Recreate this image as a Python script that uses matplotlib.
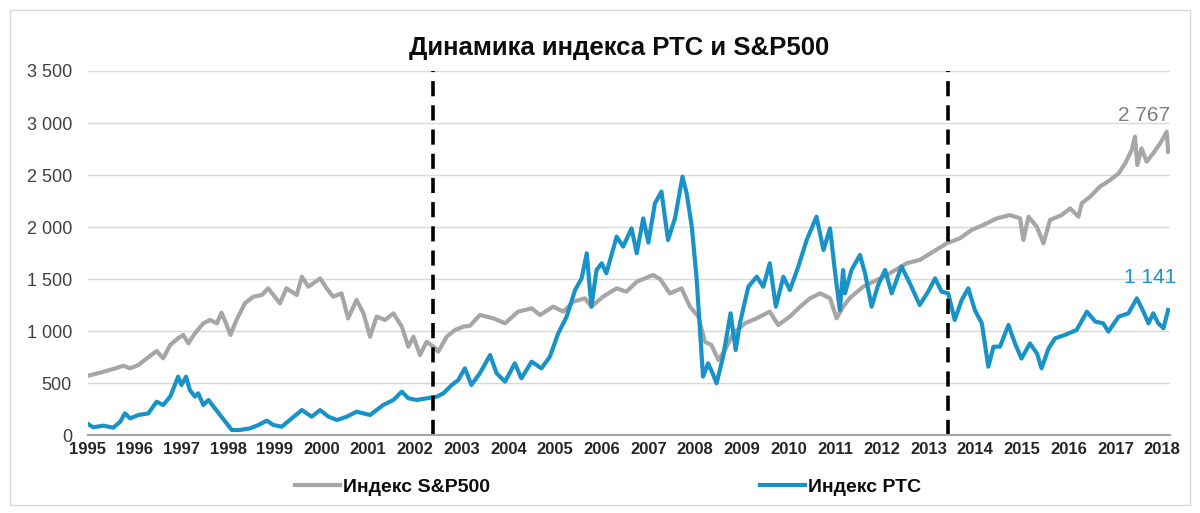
import matplotlib
matplotlib.use("Agg")
import matplotlib.pyplot as plt
from matplotlib.lines import Line2D
from matplotlib.patches import Rectangle
from matplotlib.ticker import FuncFormatter

plt.rcParams['font.family'] = ['Liberation Sans', 'DejaVu Sans']

# positions are in "axis years": label 1995 sits at 1995.0, label 2018 at 2018.0
spx_t = [1995.00, 1995.26, 1995.54, 1995.76, 1995.90, 1996.08, 1996.26, 1996.47, 1996.61, 1996.76,
         1996.93, 1997.04, 1997.15, 1997.29, 1997.47, 1997.61, 1997.76, 1997.86, 1997.97, 1998.05,
         1998.18, 1998.36, 1998.54, 1998.72, 1998.86, 1998.97, 1999.11, 1999.25, 1999.47, 1999.58,
         1999.72, 1999.97, 2000.11, 2000.25, 2000.43, 2000.57, 2000.75, 2000.90, 2001.04, 2001.18,
         2001.36, 2001.54, 2001.72, 2001.86, 2001.97, 2002.11, 2002.25, 2002.40, 2002.50, 2002.68,
         2002.86, 2003.04, 2003.18, 2003.39, 2003.68, 2003.93, 2004.21, 2004.50, 2004.68, 2004.96,
         2005.18, 2005.39, 2005.64, 2005.78, 2006.03, 2006.32, 2006.53, 2006.75, 2007.10, 2007.25,
         2007.46, 2007.71, 2007.89, 2008.07, 2008.21, 2008.35, 2008.50, 2008.64, 2008.82, 2009.07,
         2009.32, 2009.60, 2009.78, 2010.03, 2010.25, 2010.46, 2010.68, 2010.89, 2011.03, 2011.17,
         2011.32, 2011.60, 2011.89, 2012.17, 2012.53, 2012.81, 2013.10, 2013.39, 2013.67, 2013.92,
         2014.17, 2014.46, 2014.74, 2014.96, 2015.03, 2015.14, 2015.32, 2015.46, 2015.60, 2015.85,
         2016.03, 2016.21, 2016.28, 2016.46, 2016.67, 2016.89, 2017.07, 2017.21, 2017.35, 2017.42,
         2017.47, 2017.56, 2017.67, 2017.81, 2017.96, 2018.10, 2018.13]
spx_v = [570, 599, 635, 666, 641, 673, 737, 808, 737, 865,
         930, 962, 881, 978, 1074, 1106, 1074, 1176, 1058, 962,
         1106, 1266, 1330, 1346, 1410, 1346, 1266, 1410, 1346, 1522,
         1426, 1506, 1410, 1330, 1362, 1122, 1298, 1170, 945, 1138,
         1106, 1170, 1042, 849, 945, 769, 897, 849, 801, 945,
         1010, 1042, 1050, 1154, 1122, 1074, 1186, 1218, 1154, 1234,
         1186, 1282, 1314, 1234, 1330, 1410, 1378, 1474, 1538, 1500,
         1362, 1410, 1234, 1138, 897, 865, 721, 817, 978, 1074,
         1122, 1186, 1058, 1138, 1234, 1314, 1362, 1314, 1122, 1234,
         1320, 1426, 1490, 1555, 1651, 1683, 1763, 1843, 1891, 1971,
         2019, 2083, 2115, 2083, 1875, 2099, 2000, 1843, 2067, 2115,
         2179, 2099, 2228, 2292, 2388, 2452, 2516, 2612, 2740, 2868,
         2596, 2756, 2628, 2708, 2804, 2916, 2724]

rts_t = [1995.00, 1995.11, 1995.33, 1995.54, 1995.69, 1995.79, 1995.90, 1996.08, 1996.29, 1996.47,
         1996.61, 1996.76, 1996.86, 1996.93, 1997.00, 1997.10, 1997.18, 1997.29, 1997.36, 1997.47,
         1997.58, 1997.69, 1997.83, 1997.97, 1998.08, 1998.25, 1998.47, 1998.65, 1998.83, 1998.97,
         1999.15, 1999.32, 1999.58, 1999.79, 1999.97, 2000.15, 2000.33, 2000.54, 2000.75, 2001.04,
         2001.32, 2001.54, 2001.72, 2001.86, 2002.04, 2002.25, 2002.47, 2002.61, 2002.79, 2002.93,
         2003.07, 2003.14, 2003.21, 2003.39, 2003.61, 2003.75, 2003.93, 2004.14, 2004.28, 2004.50,
         2004.71, 2004.89, 2005.07, 2005.25, 2005.43, 2005.57, 2005.68, 2005.78, 2005.89, 2006.00,
         2006.10, 2006.32, 2006.46, 2006.64, 2006.75, 2006.89, 2007.00, 2007.14, 2007.28, 2007.42,
         2007.57, 2007.73, 2007.82, 2007.93, 2008.03, 2008.10, 2008.17, 2008.28, 2008.39, 2008.46,
         2008.60, 2008.76, 2008.87, 2008.96, 2009.14, 2009.32, 2009.46, 2009.60, 2009.73, 2009.89,
         2010.03, 2010.21, 2010.39, 2010.60, 2010.75, 2010.89, 2011.00, 2011.10, 2011.17, 2011.21,
         2011.35, 2011.53, 2011.64, 2011.78, 2011.92, 2012.07, 2012.21, 2012.42, 2012.60, 2012.81,
         2012.99, 2013.14, 2013.28, 2013.42, 2013.56, 2013.71, 2013.85, 2013.99, 2014.14, 2014.28,
         2014.39, 2014.53, 2014.71, 2014.85, 2014.99, 2015.17, 2015.32, 2015.42, 2015.57, 2015.71,
         2015.92, 2016.17, 2016.39, 2016.57, 2016.74, 2016.85, 2017.07, 2017.28, 2017.46, 2017.60,
         2017.71, 2017.81, 2017.92, 2018.03, 2018.13]
rts_v = [106, 74, 90, 70, 128, 208, 160, 192, 208, 320,
         288, 369, 481, 561, 481, 561, 433, 369, 401, 288,
         337, 272, 192, 112, 48, 48, 64, 96, 138, 96,
         80, 144, 240, 176, 240, 176, 144, 176, 224, 192,
         288, 337, 417, 353, 337, 353, 369, 401, 481, 529,
         641, 560, 481, 593, 769, 593, 513, 689, 545, 705,
         641, 753, 978, 1138, 1394, 1506, 1747, 1234, 1586, 1651,
         1555, 1907, 1811, 1987, 1747, 2083, 1850, 2228, 2340, 1875,
         2083, 2484, 2324, 2003, 1522, 1042, 561, 689, 577, 497,
         753, 1170, 817, 1074, 1426, 1522, 1426, 1651, 1234, 1522,
         1394, 1619, 1875, 2099, 1779, 1987, 1555, 1202, 1586, 1362,
         1586, 1731, 1555, 1234, 1442, 1586, 1362, 1619, 1458, 1250,
         1378, 1506, 1378, 1362, 1106, 1298, 1410, 1202, 1074, 657,
         849, 850, 1058, 881, 735, 881, 785, 641, 833, 930,
         962, 1010, 1186, 1090, 1074, 994, 1138, 1170, 1314, 1186,
         1074, 1170, 1074, 1026, 1202]

years = list(range(1995, 2019))
breaks = [2002.39, 2013.42]
spx_last = "2 767"
rts_last = "1 141"

GRAY = "#a6a6a6"
BLUE = "#1993c7"

fig = plt.figure(figsize=(12, 5.13), dpi=100)
ax = fig.add_axes([88 / 1200, 1 - 435 / 513, 1082 / 1200, 364 / 513])

ax.plot(spx_t, spx_v, color=GRAY, lw=3, solid_joinstyle="round")
ax.plot(rts_t, rts_v, color=BLUE, lw=3, solid_joinstyle="round")

for b in breaks:
    ax.axvline(b, color="black", lw=2.6, dashes=(4.2, 2.5))

ax.set_xlim(1995, 2018.17)
ax.set_ylim(0, 3500)
ax.set_yticks(range(0, 3501, 500))
ax.yaxis.set_major_formatter(FuncFormatter(lambda v, p: f"{int(v):,}".replace(",", " ")))
ax.set_xticks(years)
ax.set_xticklabels([str(y) for y in years], fontsize=12, fontweight="bold", color="#262626")
ax.tick_params(axis="y", length=0, labelsize=13, labelcolor="#404040", pad=11.5)
ax.tick_params(axis="x", length=0, pad=5)
ax.grid(axis="y", color="#d9d9d9", lw=1)
ax.set_axisbelow(True)
for s in ["top", "right", "left"]:
    ax.spines[s].set_visible(False)
ax.spines["bottom"].set_color("#a6a6a6")
ax.spines["bottom"].set_linewidth(1.5)

ax.text(2017.62, 3075, spx_last, color="#7f7f7f", fontsize=15, ha="center", va="center")
ax.text(2017.74, 1510, rts_last, color=BLUE, fontsize=15, ha="center", va="center", clip_on=False)

fig.text(619 / 1200, 1 - 48 / 513, "Динамика индекса РТС и S&P500", fontsize=18.5,
         fontweight="bold", ha="center", va="center", color="#0d0d0d")

h1 = Line2D([], [], color=GRAY, lw=3)
h2 = Line2D([], [], color=BLUE, lw=3)
for h, lab, x0 in [(h1, "Индекс S&P500", 295), (h2, "Индекс РТС", 760)]:
    fig.legend(handles=[h], labels=[lab], loc="center left", bbox_to_anchor=(x0 / 1200, 1 - 487 / 513),
               frameon=False, borderpad=0, borderaxespad=0, handlelength=2.3, handletextpad=0.15,
               prop={"size": 14, "weight": "bold"}, labelcolor="#0d0d0d")

fig.patches.append(Rectangle((10 / 1200, 1 - 505 / 513), 1180 / 1200, 495 / 513,
                             transform=fig.transFigure, fill=False, ec="#d9d9d9", lw=1))

fig.savefig("out.png", dpi=100)
